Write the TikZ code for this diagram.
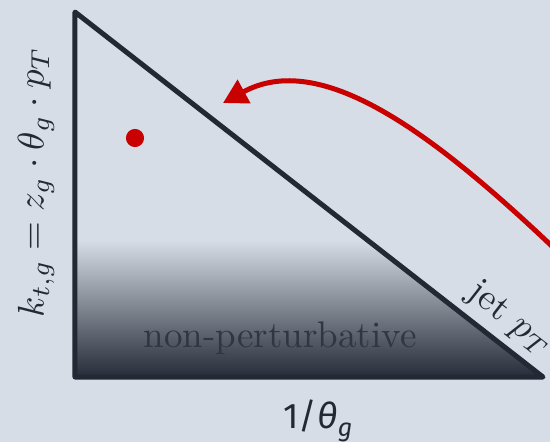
\documentclass[tikz,border=0pt]{standalone}
\usepackage{fontspec}
\newfontfamily\firasans{Fira Sans}
\usetikzlibrary{arrows.meta, positioning}
\definecolor{bgcol}{RGB}{214,221,230}
\definecolor{navy}{RGB}{34,40,52}
\definecolor{jetred}{RGB}{200,0,0}

\begin{document}
\begin{tikzpicture}[
    x=0.27pt, y=-0.27pt,
    edge/.style={draw=navy, line width=1.35pt, line join=round},
    lbl/.style={text=navy, inner sep=0pt, font=\fontsize{10}{12}\selectfont},
    axislbl/.style={text=navy, inner sep=0pt, font=\fontsize{9.6}{11}\selectfont\firasans},
    flow/.style={draw=jetred, line width=1.35pt, -{Triangle[length=6.5pt, width=7pt]}},
    emission/.style={circle, fill=jetred, minimum size=4.9pt, inner sep=0pt}
]
\fill[bgcol] (0,0) rectangle (550,442);
\useasboundingbox (0,0) rectangle (550,442);

% Lund plane corners
\coordinate (top) at (75,12);
\coordinate (origin) at (75,377);
\coordinate (corner) at (543,377);

% Non-perturbative shading
\begin{scope}
\clip (top) -- (origin) -- (corner) -- cycle;
\shade[top color=bgcol, bottom color=navy] (70,240) rectangle (550,380);
\end{scope}

% Triangle
\draw[edge] (top) -- (origin) -- (corner) -- cycle;

% Labels
\node[lbl, rotate=90, font=\fontsize{10.1}{12}\selectfont] (yaxis) at (36,182) {$k_{t,g} = z_g \cdot \theta_g \cdot p_T$};
\node[axislbl, anchor=base] (xaxis) at (318,428) {1/\textit{θ}\raisebox{-0.45ex}{\fontsize{6.8}{8}\selectfont\textit{g}}};
\node[lbl, anchor=base, text=navy!92!bgcol] (nonpert) at (280,347) {non-perturbative};
\node[lbl, rotate=-38] (jetpt) at (510,319) {jet $p_T$};

% Emission and arrow
\node[emission] (splitting) at (135,138) {};
\coordinate (jetin) at (556,250);
\coordinate (arrowtip) at (223,103);
\draw[flow] (jetin) .. controls (430,130) and (320,50) .. (arrowtip);

\end{tikzpicture}
\end{document}
